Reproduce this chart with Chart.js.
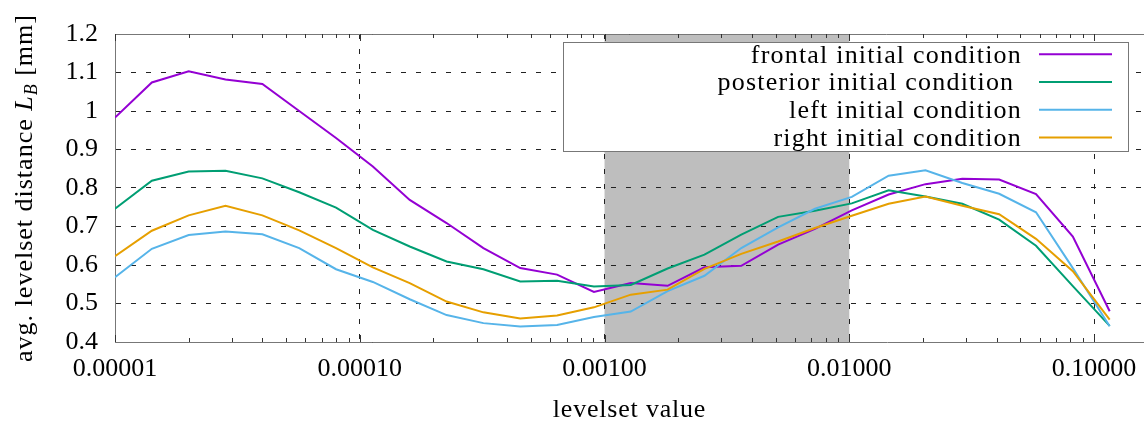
<!DOCTYPE html>
<html><head><meta charset="utf-8">
<script src="https://cdn.jsdelivr.net/npm/chart.js@4"></script>
<style>html,body{margin:0;padding:0;background:#fff;overflow:hidden}canvas{display:block}</style>
</head><body>
<canvas id="c" width="1144" height="424"></canvas>
<script>
// ---- data ----
const levelsetValues = [1.0e-5, 1.414e-5, 2.0e-5, 2.828e-5, 4.0e-5, 5.657e-5, 8.0e-5, 1.131e-4,
  1.6e-4, 2.263e-4, 3.2e-4, 4.525e-4, 6.4e-4, 9.051e-4, 1.28e-3, 1.810e-3, 2.56e-3, 3.620e-3,
  5.12e-3, 7.241e-3, 1.024e-2, 1.448e-2, 2.048e-2, 2.896e-2, 4.096e-2, 5.793e-2, 8.192e-2, 1.1585e-1];
const seriesLabels = ['frontal initial condition', 'posterior initial condition ', 'left initial condition', 'right initial condition'];
const seriesColors = ['#9400d3', '#009e73', '#56b4e9', '#e69f00'];
const frontalIC = [0.983, 1.074, 1.103, 1.082, 1.070, 1.000, 0.930, 0.856, 0.769, 0.709, 0.644, 0.592, 0.575, 0.530,
  0.553, 0.546, 0.594, 0.598, 0.653, 0.694, 0.742, 0.783, 0.810, 0.824, 0.822, 0.784, 0.674, 0.480];
const posteriorIC = [0.746, 0.819, 0.843, 0.845, 0.825, 0.789, 0.749, 0.691, 0.648, 0.609, 0.589, 0.557, 0.559, 0.544,
  0.548, 0.591, 0.627, 0.679, 0.725, 0.741, 0.760, 0.794, 0.778, 0.759, 0.718, 0.650, 0.545, 0.442];
const leftIC = [0.568, 0.642, 0.678, 0.687, 0.680, 0.644, 0.589, 0.556, 0.511, 0.470, 0.449, 0.440, 0.444, 0.465,
  0.479, 0.532, 0.572, 0.644, 0.698, 0.746, 0.777, 0.832, 0.846, 0.813, 0.785, 0.737, 0.592, 0.441];
const rightIC = [0.623, 0.689, 0.729, 0.754, 0.729, 0.690, 0.644, 0.594, 0.553, 0.505, 0.477, 0.461, 0.469, 0.490,
  0.523, 0.536, 0.590, 0.629, 0.661, 0.696, 0.728, 0.759, 0.778, 0.754, 0.732, 0.668, 0.584, 0.458];
const xTickValues = [1e-5, 1e-4, 1e-3, 1e-2, 1e-1];
const xTickLabels = ['0.00001', '0.00010', '0.00100', '0.01000', '0.10000'];
const xRange = [1e-5, 0.16];
const yRange = [0.4, 1.2];
const yStep = 0.1;
const shadedRange = [0.001, 0.01];
const xTitle = 'levelset value';
const yTitleBefore = 'avg. levelset distance ';
const yTitleSymbol = 'L';
const yTitleSub = 'B';
const yTitleAfter = ' [mm]';

const FAM = '"Liberation Serif", "Times New Roman", serif';
const allSeries = [frontalIC, posteriorIC, leftIC, rightIC];

const decor = {
  id: 'decor',
  beforeDraw(chart) {
    const {ctx, chartArea: a, scales: {x}} = chart;
    const x0 = x.getPixelForValue(shadedRange[0]), x1 = x.getPixelForValue(shadedRange[1]);
    ctx.save();
    ctx.fillStyle = '#bebebe';
    ctx.fillRect(x0, a.top, x1 - x0, a.bottom - a.top);
    ctx.restore();
  },
  beforeDatasetsDraw(chart) {
    const {ctx, chartArea: a, scales: {x}} = chart;
    ctx.save();
    ctx.strokeStyle = '#777'; ctx.lineWidth = 1;
    ctx.beginPath(); ctx.moveTo(a.left, a.top + 0.5); ctx.lineTo(a.right, a.top + 0.5); ctx.stroke();
    ctx.strokeStyle = '#333';
    ctx.beginPath();
    for (let e = -5; e <= -1; e++) {
      for (let m = 1; m <= 9; m++) {
        const v = m * Math.pow(10, e);
        if (v < x.min || v > x.max) continue;
        const px = Math.round(x.getPixelForValue(v)) + 0.5;
        const len = m === 1 ? 7 : 4;
        ctx.moveTo(px, a.bottom); ctx.lineTo(px, a.bottom - len);
        ctx.moveTo(px, a.top); ctx.lineTo(px, a.top + len);
      }
    }
    ctx.stroke();
    ctx.restore();
  },
  afterDraw(chart) {
    const {ctx, chartArea: a, scales: {x}} = chart;
    ctx.save();
    ctx.fillStyle = '#000';
    // x tick labels (positions from the x scale)
    ctx.font = '26px ' + FAM;
    ctx.letterSpacing = '0px';
    ctx.textAlign = 'center'; ctx.textBaseline = 'alphabetic';
    xTickValues.forEach((v, i) => ctx.fillText(xTickLabels[i], x.getPixelForValue(v), 376));
    // x title
    ctx.letterSpacing = '0.8px';
    ctx.fillText(xTitle, (a.left + a.right) / 2, 417);
    // y title
    ctx.save();
    ctx.translate(32, (a.top + a.bottom) / 2);
    ctx.rotate(-Math.PI / 2);
    ctx.textAlign = 'left';
    ctx.letterSpacing = '1px';
    const fN = '26px ' + FAM, fI = 'italic 26px ' + FAM, fS = 'italic 18px ' + FAM;
    ctx.font = fN; const w1 = ctx.measureText(yTitleBefore).width;
    ctx.font = fI; const w2 = ctx.measureText(yTitleSymbol).width;
    ctx.font = fS; const w3 = ctx.measureText(yTitleSub).width;
    ctx.font = fN; const w4 = ctx.measureText(yTitleAfter).width;
    let cx = -(w1 + w2 + w3 + w4) / 2;
    ctx.font = fN; ctx.fillText(yTitleBefore, cx, 0); cx += w1;
    ctx.font = fI; ctx.fillText(yTitleSymbol, cx, 0); cx += w2;
    ctx.font = fS; ctx.fillText(yTitleSub, cx, 5); cx += w3;
    ctx.font = fN; ctx.fillText(yTitleAfter, cx, 0);
    ctx.restore();
    // legend
    const lx0 = 563, ly0 = 42, lx1 = 1128, ly1 = 151;
    ctx.fillStyle = '#fff';
    ctx.fillRect(lx0, ly0, lx1 - lx0, ly1 - ly0);
    ctx.strokeStyle = '#777'; ctx.lineWidth = 1;
    ctx.strokeRect(lx0 + 0.5, ly0 + 0.5, lx1 - lx0, ly1 - ly0);
    ctx.font = '26px ' + FAM;
    ctx.letterSpacing = '1.2px';
    ctx.textAlign = 'right';
    chart.data.datasets.forEach((ds, i) => {
      const y = 54.3 + i * 27.7;
      ctx.fillStyle = '#000';
      ctx.fillText(ds.label, 1022, y + 8.4);
      ctx.strokeStyle = ds.borderColor; ctx.lineWidth = 2;
      ctx.beginPath(); ctx.moveTo(1039, y); ctx.lineTo(1112, y); ctx.stroke();
    });
    ctx.restore();
  }
};

new Chart(document.getElementById('c'), {
  type: 'line',
  data: {
    datasets: allSeries.map((s, i) => ({
      label: seriesLabels[i],
      data: s.map((v, k) => ({x: levelsetValues[k], y: v})),
      borderColor: seriesColors[i],
      backgroundColor: seriesColors[i],
      borderWidth: 2,
      pointRadius: 0,
      tension: 0,
      fill: false,
      order: 3 - i
    }))
  },
  options: {
    responsive: false,
    animation: false,
    layout: {padding: {top: 34, left: 0, right: 0, bottom: 0}},
    plugins: {legend: {display: false}, tooltip: {enabled: false}},
    scales: {
      x: {
        type: 'logarithmic', min: xRange[0], max: xRange[1],
        afterBuildTicks: s => { s.ticks = xTickValues.map(v => ({value: v})); },
        afterFit: s => { s.height = 82; },
        ticks: {display: false, autoSkip: false, maxRotation: 0},
        grid: {color: '#222', lineWidth: 1, drawTicks: false},
        border: {display: true, color: '#777', width: 1, dash: [5, 10]}
      },
      y: {
        min: yRange[0], max: yRange[1],
        afterFit: s => { s.width = 115; },
        ticks: {stepSize: yStep, callback: v => String(Math.round(v * 10) / 10),
                font: {family: FAM, size: 26}, color: '#000', padding: 17},
        grid: {color: '#222', lineWidth: 1, drawTicks: false},
        border: {display: true, color: '#777', width: 1, dash: [5, 10]}
      }
    }
  },
  plugins: [decor]
});
</script>
</body></html>
